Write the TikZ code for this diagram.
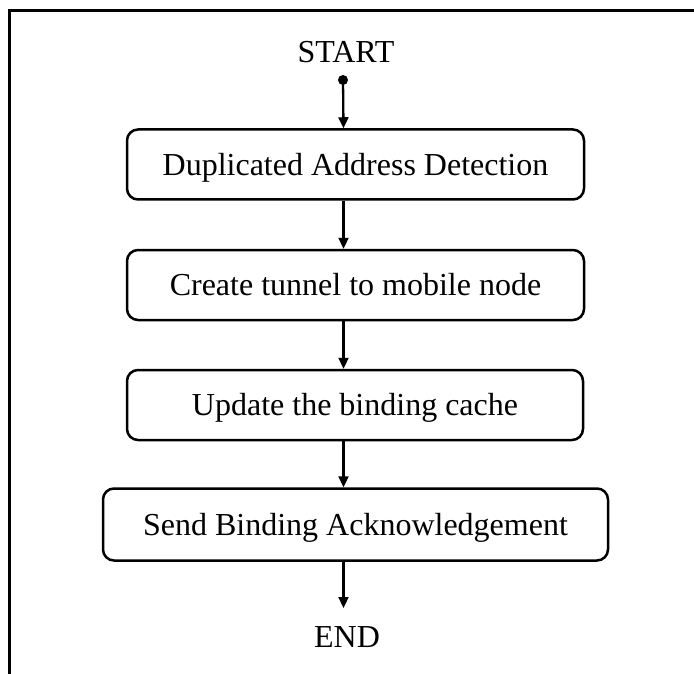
\documentclass[tikz,border=0pt]{standalone}
\usepackage{fontspec}
\setmainfont{Liberation Serif}
\usetikzlibrary{arrows.meta}
\begin{document}
\begin{tikzpicture}[x=1pt,y=-1pt,
  stepbox/.style={draw,line width=2.5pt,rounded corners=11pt,inner sep=0pt,
    font=\fontsize{32}{38}\selectfont,text height=28pt,text depth=6.8pt,minimum height=70pt},
  lbl/.style={inner sep=0pt,font=\fontsize{32}{38}\selectfont},
  flow/.style={line width=2.3pt,-{Triangle[length=11pt,width=10pt]}}]
\useasboundingbox (0,0) rectangle (694,674);
\draw[line width=2.6pt] (9.5,674) -- (9.5,10.5) -- (694,10.5);
\node[lbl] (start) at (346,52) {START};
\node[circle,fill,inner sep=0pt,minimum size=10pt] (dot) at (343,80) {};
\node[stepbox,minimum width=457pt] (b1) at (355.5,164.5) {Duplicated Address Detection};
\node[stepbox,minimum width=457pt] (b2) at (355.5,285) {Create tunnel to mobile node};
\node[stepbox,minimum width=456pt] (b3) at (355,405) {Update the binding cache};
\node[stepbox,minimum width=505pt,minimum height=72pt] (b4) at (355.5,524.5) {Send Binding Acknowledgement};
\node[lbl] (end) at (347,637) {END};
\coordinate (ax) at (343.5,0);
\coordinate (endtip) at (343.5,608);
\draw[flow] (dot.center) -- (b1.north -| ax);
\draw[flow] (b1.south -| ax) -- (b2.north -| ax);
\draw[flow] (b2.south -| ax) -- (b3.north -| ax);
\draw[flow] (b3.south -| ax) -- (b4.north -| ax);
\draw[flow] (b4.south -| ax) -- (endtip);
\end{tikzpicture}
\end{document}
